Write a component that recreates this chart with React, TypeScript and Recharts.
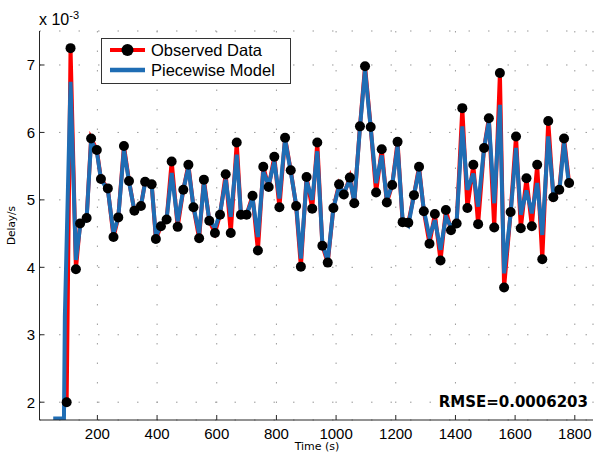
import React from 'react';
import { LineChart, Line, XAxis, YAxis, CartesianGrid } from 'recharts';

// time (s) of each observed sample
const times = [
  97, 110, 128, 142, 164, 179, 198, 212, 235, 254, 270, 289, 306, 324, 346, 360, 382, 396, 413, 432,
  449, 469, 488, 505, 522, 541, 557, 575, 594, 611, 630, 647, 667, 681, 700, 720, 738, 756, 774, 793,
  810, 829, 848, 866, 882, 901, 920, 937, 954, 972, 991, 1010, 1026, 1046, 1061, 1080, 1097, 1116, 1134, 1153,
  1170, 1188, 1206, 1223, 1242, 1261, 1278, 1294, 1313, 1331, 1350, 1368, 1385, 1404, 1423, 1440, 1460, 1476, 1496, 1512,
  1530, 1549, 1563, 1585, 1603, 1619, 1638, 1656, 1674, 1691, 1711, 1728, 1748, 1764, 1781,
];

// observed delay, x 10^-3 s
const observed = [
  2.0, 7.25, 3.97, 4.65, 4.73, 5.91, 5.74, 5.31, 5.17, 4.45, 4.74, 5.8, 5.28, 4.84, 4.91, 5.27, 5.23, 4.42, 4.61, 4.71,
  5.57, 4.6, 5.15, 5.52, 4.89, 4.43, 5.3, 4.69, 4.51, 4.78, 5.38, 4.51, 5.85, 4.78, 4.78, 5.06, 4.25, 5.49, 5.19, 5.64,
  4.89, 5.92, 5.44, 4.91, 4.01, 5.34, 4.87, 5.85, 4.32, 4.07, 4.88, 5.23, 5.08, 5.33, 4.95, 6.09, 6.98, 6.08, 5.11, 5.75,
  4.96, 5.22, 5.86, 4.67, 4.66, 5.07, 5.49, 4.83, 4.35, 4.79, 4.1, 4.85, 4.55, 4.65, 6.36, 4.88, 5.52, 4.64, 5.77, 6.21,
  4.59, 6.88, 3.7, 4.82, 5.94, 4.58, 5.32, 4.61, 5.52, 4.12, 6.17, 5.04, 5.15, 5.91, 5.25,
];

// piecewise model: lead-in before the first sample, then one value per sample from times[1]
const modelLeadTimes = [52, 88, 91];
const modelLeadValues = [1.76, 1.76, 3.27];
const model = [
  6.75, 4.11, 4.6, 4.73, 5.88, 5.72, 5.3, 5.15, 4.5, 4.74, 5.75, 5.27, 4.84, 4.91, 5.26, 5.22, 4.46, 4.62, 4.72,
  5.4, 4.68, 5.15, 5.48, 4.9, 4.5, 5.25, 4.7, 4.58, 4.8, 5.3, 4.75, 5.67, 4.8, 4.78, 5.02, 4.45, 5.42, 5.22, 5.57,
  5.02, 5.9, 5.42, 4.93, 4.13, 5.28, 5.0, 5.72, 4.35, 4.1, 4.88, 5.2, 5.1, 5.3, 4.97, 6.07, 6.93, 6.06, 5.25, 5.66,
  5.0, 5.22, 5.8, 4.7, 4.62, 5.07, 5.45, 4.85, 4.45, 4.7, 4.26, 4.75, 4.6, 4.68, 6.09, 5.15, 5.39, 4.9, 5.77, 6.16,
  4.95, 6.41, 3.91, 4.8, 5.77, 4.78, 5.14, 4.8, 5.25, 4.48, 5.94, 5.1, 5.12, 5.85, 5.2,
];

const xTicks = [200, 400, 600, 800, 1000, 1200, 1400, 1600, 1800];
const yTicks = [2, 3, 4, 5, 6, 7];

const obsData = times.map((t, i) => ({ t, v: observed[i] }));
const modelData = [
  ...modelLeadTimes.map((t, i) => ({ t, v: modelLeadValues[i] })),
  ...times.slice(1).map((t, i) => ({ t, v: model[i] })),
];

const xDomain = [6, 1861];
const yDomain = [1.736, 7.504];
const axisColor = '#262626';
const tickFont = { fill: '#000', fontSize: 15, fontFamily: 'Liberation Sans, Arial, sans-serif' };

export default function App() {
  return (
    <div style={{ position: 'absolute', left: 0, top: 0, width: 595, height: 453, background: '#fff' }}>
      <LineChart width={595} height={453} margin={{ top: 31, right: 2, bottom: 0, left: 0 }}>
        <CartesianGrid stroke="#999" strokeDasharray="1.5 18" />
        <XAxis
          type="number"
          dataKey="t"
          domain={xDomain}
          ticks={xTicks}
          height={33}
          tickSize={-5}
          tickMargin={13}
          allowDataOverflow
          axisLine={{ stroke: axisColor }}
          tickLine={{ stroke: axisColor }}
          tick={tickFont}
        />
        <XAxis
          xAxisId="top"
          orientation="top"
          type="number"
          dataKey="t"
          domain={xDomain}
          ticks={xTicks}
          height={0}
          tickSize={-5}
          tick={false}
          allowDataOverflow
          axisLine={{ stroke: axisColor }}
          tickLine={{ stroke: axisColor }}
        />
        <YAxis
          type="number"
          domain={yDomain}
          ticks={yTicks}
          width={39.5}
          tickSize={-5}
          tickMargin={9.5}
          allowDataOverflow
          axisLine={{ stroke: axisColor }}
          tickLine={{ stroke: axisColor }}
          tick={tickFont}
        />
        <YAxis
          yAxisId="right"
          orientation="right"
          type="number"
          domain={yDomain}
          ticks={yTicks}
          width={0}
          tickSize={-5}
          tick={false}
          allowDataOverflow
          axisLine={{ stroke: axisColor }}
          tickLine={{ stroke: axisColor }}
        />
        <Line
          data={obsData}
          dataKey="v"
          stroke="#ff0000"
          strokeWidth={4}
          dot={false}
          isAnimationActive={false}
        />
        <Line
          data={modelData}
          dataKey="v"
          stroke="#1f6db4"
          strokeWidth={4}
          dot={false}
          isAnimationActive={false}
        />
        <Line
          data={obsData}
          dataKey="v"
          stroke="none"
          dot={{ r: 5, fill: '#000', stroke: 'none' }}
          isAnimationActive={false}
        />
      </LineChart>

      <svg
        width={595}
        height={453}
        style={{ position: 'absolute', left: 0, top: 0, pointerEvents: 'none' }}
      >
        <text x={39} y={25} fontSize={16} fontFamily="Liberation Sans, Arial, sans-serif" fill="#000">
          x 10
          <tspan fontSize={11} dy={-6}>-3</tspan>
        </text>
        <text
          transform="translate(15, 225.5) rotate(-90)"
          textAnchor="middle"
          fontSize={10.5}
          fontFamily="DejaVu Sans, sans-serif"
          fill="#000"
        >
          Delay/s
        </text>
        <text x={317} y={450} textAnchor="middle" fontSize={11} fontFamily="DejaVu Sans, sans-serif" fill="#000">
          Time (s)
        </text>
        <text
          x={588}
          y={406.5}
          textAnchor="end"
          fontSize={15}
          fontWeight="bold"
          fontFamily="DejaVu Sans, sans-serif"
          fill="#000"
        >
          RMSE=0.0006203
        </text>

        {/* legend */}
        <rect x={101.5} y={38.5} width={189} height={45} fill="#fff" stroke="#333" />
        <line x1={110} y1={50} x2={145} y2={50} stroke="#ff0000" strokeWidth={4} />
        <circle cx={127.5} cy={50} r={6} fill="#000" />
        <text x={151} y={56} fontSize={16.5} fontFamily="Liberation Sans, Arial, sans-serif" fill="#000">
          Observed Data
        </text>
        <line x1={110} y1={70} x2={145} y2={70} stroke="#1f6db4" strokeWidth={4.5} />
        <text x={151} y={76} fontSize={16.5} fontFamily="Liberation Sans, Arial, sans-serif" fill="#000">
          Piecewise Model
        </text>
      </svg>
    </div>
  );
}
